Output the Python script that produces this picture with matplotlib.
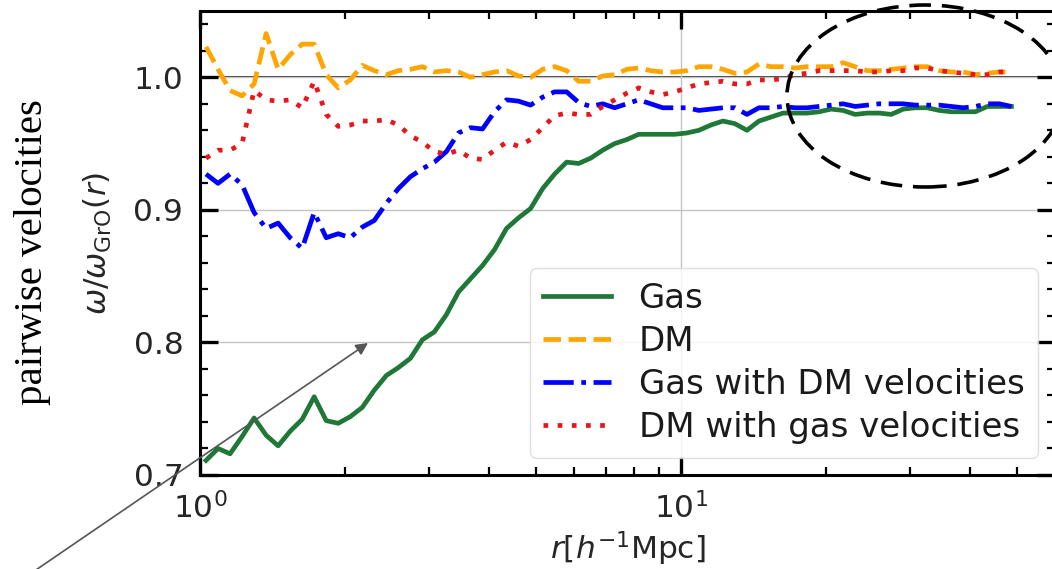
import numpy as np
import matplotlib
matplotlib.use("Agg")
import matplotlib.pyplot as plt
from matplotlib.patches import Ellipse

# log-spaced radial bins, 0.025 dex wide between 1 and 50 h^-1 Mpc
r = np.logspace(0.0125, 1.6875, 68)

gas = [0.711, 0.720, 0.716, 0.729, 0.743, 0.730, 0.722, 0.733, 0.742, 0.759,
       0.741, 0.739, 0.744, 0.751, 0.764, 0.775, 0.781, 0.788, 0.802, 0.808,
       0.821, 0.838, 0.848, 0.858, 0.870, 0.886, 0.894, 0.901, 0.916, 0.927,
       0.936, 0.935, 0.939, 0.945, 0.950, 0.953, 0.957, 0.957, 0.957, 0.957,
       0.958, 0.960, 0.964, 0.967, 0.965, 0.960, 0.967, 0.970, 0.973, 0.973,
       0.973, 0.974, 0.976, 0.975, 0.972, 0.973, 0.973, 0.972, 0.976, 0.977,
       0.977, 0.975, 0.974, 0.974, 0.974, 0.978, 0.978, 0.978]

dm = [1.023, 1.006, 0.990, 0.986, 0.995, 1.033, 1.006, 1.017, 1.025, 1.025,
      1.002, 0.992, 0.998, 1.009, 1.005, 1.002, 1.005, 1.006, 1.008, 1.004,
      1.005, 1.004, 1.000, 1.002, 1.004, 1.005, 1.001, 1.000, 1.006, 1.008,
      1.005, 0.997, 0.997, 1.001, 1.002, 1.006, 1.007, 1.005, 1.004, 1.004,
      1.005, 1.008, 1.008, 1.006, 1.003, 1.004, 1.010, 1.008, 1.008, 1.007,
      1.008, 1.008, 1.008, 1.011, 1.008, 1.005, 1.005, 1.006, 1.007, 1.008,
      1.008, 1.005, 1.004, 1.004, 1.002, 1.003, 1.004, 1.004]

gas_dmvel = [0.927, 0.920, 0.927, 0.919, 0.898, 0.886, 0.890, 0.879, 0.871, 0.898,
             0.879, 0.882, 0.879, 0.887, 0.892, 0.905, 0.916, 0.925, 0.931, 0.936,
             0.944, 0.958, 0.962, 0.961, 0.974, 0.983, 0.982, 0.979, 0.985, 0.989,
             0.989, 0.981, 0.978, 0.980, 0.977, 0.980, 0.983, 0.980, 0.977, 0.977,
             0.977, 0.975, 0.976, 0.977, 0.977, 0.972, 0.977, 0.977, 0.978, 0.977,
             0.977, 0.978, 0.979, 0.980, 0.978, 0.979, 0.980, 0.980, 0.980, 0.979,
             0.979, 0.979, 0.978, 0.977, 0.978, 0.980, 0.980, 0.978]

dm_gasvel = [0.939, 0.945, 0.945, 0.950, 0.990, 0.983, 0.982, 0.983, 0.977, 0.997,
             0.972, 0.963, 0.964, 0.967, 0.967, 0.968, 0.964, 0.956, 0.951, 0.944,
             0.942, 0.945, 0.939, 0.938, 0.945, 0.951, 0.948, 0.953, 0.962, 0.971,
             0.973, 0.972, 0.972, 0.978, 0.983, 0.988, 0.992, 0.989, 0.987, 0.989,
             0.992, 0.995, 0.996, 0.997, 0.995, 0.995, 0.998, 0.998, 0.999, 1.002,
             1.003, 1.005, 1.005, 1.005, 1.005, 1.004, 1.004, 1.005, 1.005, 1.007,
             1.007, 1.005, 1.004, 1.003, 1.002, 1.002, 1.004, 1.004]

series = [
    ("Gas", gas, dict(color="#1f7838", ls="-")),
    ("DM", dm, dict(color="orange", ls="--")),
    ("Gas with DM velocities", gas_dmvel, dict(color="blue", ls="-.")),
    ("DM with gas velocities", dm_gasvel, dict(color="#e8161b", ls=(0, (1, 2.0)))),
]

W, H = 1052, 569
fig = plt.figure(figsize=(W / 100, H / 100), dpi=100)
ax = fig.add_axes([200 / W, 94 / H, 855 / W, 464 / H])

for label, vals, kw in series:
    ax.plot(r, vals, lw=3.4, label=label, **kw)

ax.axhline(1.0, color="black", lw=1.1, zorder=1)
ax.set_xscale("log")
ax.set_xlim(1, 60)
ax.set_ylim(0.7, 1.05)
ax.set_yticks([0.7, 0.8, 0.9, 1.0])
ax.set_yticks(np.arange(0.70, 1.05, 0.02), minor=True)
ax.grid(True, which="major", color="#c4c4c4", lw=1.0, zorder=0)

ax.tick_params(which="both", direction="in", top=True, right=True,
               labelsize=22.5, labelcolor="#262626", pad=12)
ax.tick_params(which="major", length=13, width=2.4)
ax.tick_params(which="minor", length=6, width=1.6)
for s in ax.spines.values():
    s.set_linewidth(2.2)

ax.set_xlabel(r"$r[h^{-1}{\rm Mpc}]$", fontsize=22.5, color="#262626", labelpad=4)
ax.set_ylabel(r"$\omega/\omega_{\rm GrO}(r)$", fontsize=22.5, color="#262626", labelpad=14)

leg = ax.legend(loc="lower right", fontsize=24.5, handlelength=2.0,
                labelspacing=0.3, borderpad=0.4, fancybox=True,
                framealpha=0.8, edgecolor="#d8d8d8")
for t in leg.get_texts():
    t.set_color("#1a1a1a")

# annotation overlay
fig.text(33 / W, 1 - 252 / H, "pairwise velocities", rotation=90,
         family="Liberation Serif", fontsize=29.5, ha="center", va="center")
ax.annotate("", xy=(368, H - 343), xycoords="figure pixels",
            xytext=(30, -5), textcoords="figure pixels",
            arrowprops=dict(arrowstyle="-|>", color="#555555", lw=1.2,
                            mutation_scale=18, shrinkA=0, shrinkB=0),
            annotation_clip=False)
ell = Ellipse((925 / 100, (H - 96) / 100), 2.76, 1.82,
              transform=fig.dpi_scale_trans, fill=False, edgecolor="black",
              lw=2.6, linestyle=(0, (6.0, 3.0)))
fig.add_artist(ell)

fig.savefig("out.png", dpi=100)
